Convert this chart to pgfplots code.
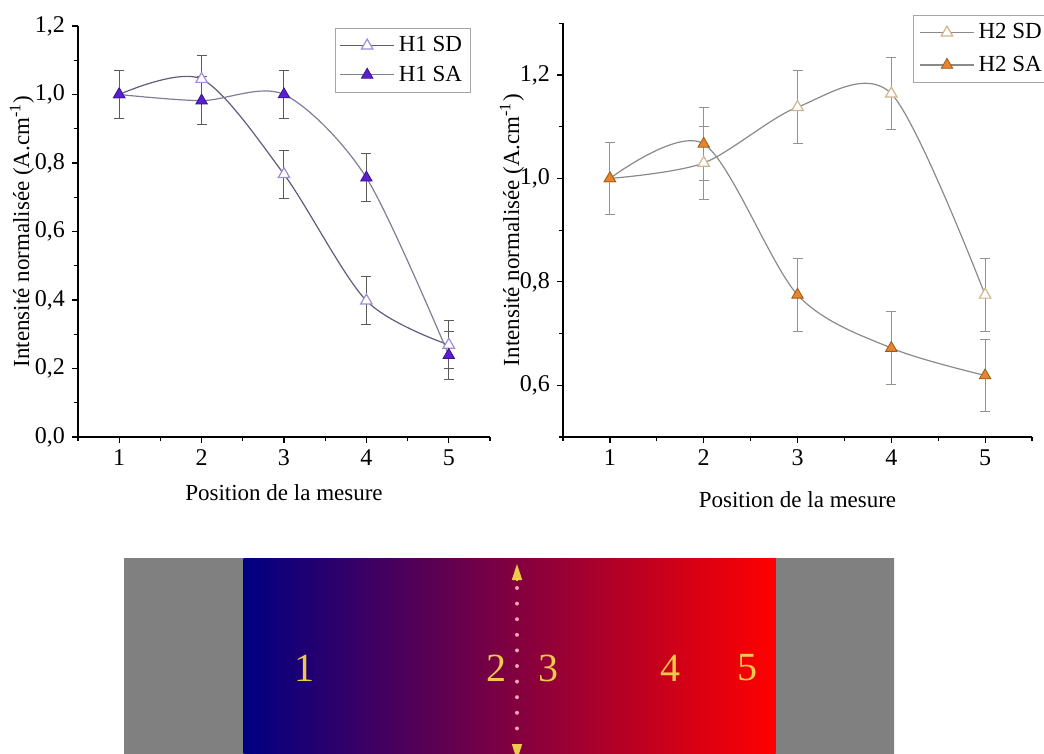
\documentclass[border=0pt]{standalone}
\usepackage{fontspec}
\setmainfont{Liberation Serif}
\usepackage{pgfplots}
\usepackage{pgfplotstable}
\pgfplotsset{compat=1.18}
\usetikzlibrary{arrows.meta}
\definecolor{hline}{HTML}{5E5E7C}
\definecolor{herr}{HTML}{5A5A5A}
\definecolor{hsa}{HTML}{5B1FD0}
\definecolor{hsaedge}{HTML}{3A1090}
\definecolor{hsd}{HTML}{A08CD8}
\definecolor{kline}{HTML}{8A8A8A}
\definecolor{kerr}{HTML}{9A9288}
\definecolor{ksa}{HTML}{E8842C}
\definecolor{ksaedge}{HTML}{9A5A18}
\definecolor{ksd}{HTML}{D2B48C}
\definecolor{gbar}{HTML}{808080}
\definecolor{navyb}{HTML}{000082}
\definecolor{redb}{HTML}{FF0000}
\definecolor{yel}{HTML}{EFC94A}
\definecolor{dotc}{HTML}{F5A0B0}

\pgfplotstableread{
x y e
1 1.000 0.07
2 1.045 0.07
3 0.767 0.07
4 0.398 0.07
5 0.269 0.07
}\hSD
\pgfplotstableread{
x y e
1 1.000 0.07
2 0.982 0.07
3 1.000 0.07
4 0.757 0.07
5 0.239 0.07
}\hSA
\pgfplotstableread{
x y e
1 1.000 0.07
2 1.030 0.07
3 1.138 0.07
4 1.164 0.07
5 0.775 0.07
}\kSD
\pgfplotstableread{
x y e
1 1.000 0.07
2 1.067 0.07
3 0.775 0.07
4 0.672 0.07
5 0.619 0.07
}\kSA

\pgfplotsset{
  common/.style={
    scale only axis, axis lines*=left, enlargelimits=false,
    xmin=0.5, xmax=5.5, xtick={1,2,3,4,5}, minor xtick={0.5,1.5,...,5.5},
    tick align=outside, major tick length=3pt, minor tick length=1.8pt,
    axis line style={line width=0.7pt, black},
    every tick/.style={black, line width=0.6pt},
    tick label style={font=\fontsize{12}{12}\selectfont},
    /pgf/number format/assume math mode=true,
    yticklabel style={/pgf/number format/.cd, fixed, fixed zerofill, precision=1, use comma},
    label style={font=\fontsize{11.5}{12}\selectfont},
    xlabel={Position de la mesure},
    ylabel={Intensité normalisée (A.cm\textsuperscript{-1})},
    legend cell align=left,
    legend style={draw=gray!70, line width=0.5pt, font=\fontsize{11.5}{12}\selectfont, inner sep=2pt},
    legend image code/.code={\draw[mark repeat=2,mark phase=2,##1] plot coordinates {(0pt,0pt)(13.5pt,0pt)(27pt,0pt)};},
    clip=false,
  },
  ebar/.style={error bars/.cd, y dir=both, y explicit,
    error bar style={color=#1, line width=0.5pt},
    error mark options={rotate=90, mark size=2.5pt, color=#1, line width=0.5pt}},
}

\begin{document}
\begin{tikzpicture}
\useasboundingbox (0,0) rectangle (522pt,377pt);

% Left plot
\begin{axis}[common, at={(39pt,158.5pt)}, anchor=south west,
  width=206pt, height=205.5pt,
  ymin=0, ymax=1.2, ytick={0,0.2,...,1.2}, minor ytick={0.1,0.3,...,1.1},
  xlabel style={at={(axis description cs:0.5,-0.136)}, anchor=center},
  ylabel style={at={(axis description cs:-0.136,0.5)}, anchor=center},
  legend style={at={(0.624,0.995)}, anchor=north west, row sep=1.5pt},
]
\addplot[color=hline, line width=0.6pt, smooth, mark=triangle*, mark size=3.3pt,
  mark options={solid, fill=white, draw=hsd, line width=0.6pt}, ebar=herr]
  table[x=x, y=y, y error=e] {\hSD};
\addlegendentry{H1 SD}
\addplot[color=hline!80!white, line width=0.6pt, smooth, mark=triangle*, mark size=3.3pt,
  mark options={solid, fill=hsa, draw=hsaedge, line width=0.4pt}, ebar=herr]
  table[x=x, y=y, y error=e] {\hSA};
\addlegendentry{H1 SA}
\end{axis}

% Right plot
\begin{axis}[common, at={(281.5pt,158.5pt)}, anchor=south west,
  width=234.5pt, height=206.8pt,
  ymin=0.5, ymax=1.3, ytick={0.6,0.8,1.0,1.2}, minor ytick={0.5,0.7,0.9,1.1,1.3},
  xlabel style={at={(axis description cs:0.5,-0.152)}, anchor=center},
  ylabel style={at={(axis description cs:-0.109,0.5)}, anchor=center},
  legend style={at={(0.746,1.02)}, anchor=north west, row sep=3pt, inner xsep=3pt},
]
\addplot[color=kline, line width=0.6pt, smooth, mark=triangle*, mark size=3.3pt,
  mark options={solid, fill=white, draw=ksd, line width=0.6pt}, ebar=kerr]
  table[x=x, y=y, y error=e] {\kSD};
\addlegendentry{H2 SD}
\addplot[color=kline, line width=0.6pt, smooth, mark=triangle*, mark size=3.3pt,
  mark options={solid, fill=ksa, draw=ksaedge, line width=0.4pt}, ebar=kerr]
  table[x=x, y=y, y error=e] {\kSA};
\addlegendentry{H2 SA}
\end{axis}

% Bottom schematic
\begin{axis}[at={(0pt,0pt)}, anchor=south west, scale only axis,
  width=522pt, height=377pt, xmin=0, xmax=1044, ymin=0, ymax=754,
  y dir=reverse, hide axis, clip=false]
\addplot[draw=none, fill=gbar] coordinates {(124,558)(244,558)(244,754)(124,754)(124,558)};
\addplot[draw=none, fill=gbar] coordinates {(775,558)(894,558)(894,754)(775,754)(775,558)};
\addplot[draw=none, left color=navyb, right color=redb] coordinates {(243.5,558)(775.5,558)(775.5,754)(243.5,754)(243.5,558)};
\node[text=yel, font=\fontsize{20}{20}\selectfont] at (axis cs:304,668) {1};
\node[text=yel, font=\fontsize{20}{20}\selectfont] at (axis cs:496,668) {2};
\node[text=yel, font=\fontsize{20}{20}\selectfont] at (axis cs:548,668) {3};
\node[text=yel, font=\fontsize{20}{20}\selectfont] at (axis cs:670,668) {4};
\node[text=yel, font=\fontsize{20}{20}\selectfont] at (axis cs:747,668) {5};
\draw[dotc, line width=2pt, line cap=round, dash pattern=on 0pt off 7.8pt] (axis cs:517,588) -- (axis cs:517,735);
\draw[yel, line width=0.8pt, -{Triangle[width=5pt, length=8pt]}] (axis cs:517,580) -- (axis cs:517,564);
\draw[yel, line width=0.8pt, -{Triangle[width=5pt, length=8pt]}] (axis cs:517,744) -- (axis cs:517,760);
\end{axis}
\end{tikzpicture}
\end{document}
